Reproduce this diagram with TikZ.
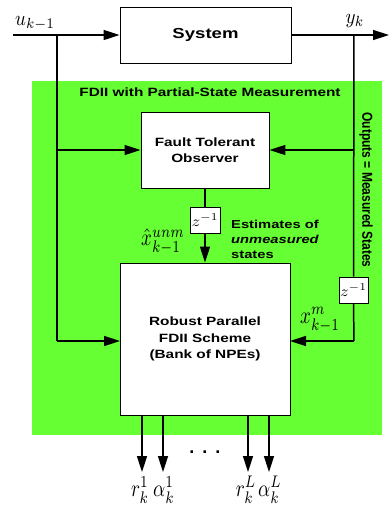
\documentclass[tikz,border=0pt]{standalone}
\usepackage{fontspec}
\usepackage{graphicx}
\setsansfont{Liberation Sans}
\newfontfamily\wsans{Liberation Sans}[FakeStretch=1.28]
\usetikzlibrary{arrows.meta}
\definecolor{fdgreen}{RGB}{102,255,51}
% stretched math label: #1 = horizontal scale, #2 = vertical scale (relative to 10pt)
\newcommand{\wm}[3]{\scalebox{#1}[#2]{$#3$}}
\tikzset{
  blk/.style={draw=black, fill=white, line width=0.9pt, inner sep=0pt},
  wire/.style={line width=1.5pt},
  arr/.style={wire, -{Triangle[length=16pt,width=10pt]}},
  btxt/.style={font=\wsans\bfseries\fontsize{12}{16.5}\selectfont, align=center},
  mlab/.style={inner sep=0pt}
}
\begin{document}
\begin{tikzpicture}[x=1pt,y=-1pt]
\useasboundingbox (0,0) rectangle (389,507);
\fill[fdgreen] (32,81) rectangle (382,435);
% boxes
\node[blk, btxt, font=\wsans\bfseries\fontsize{14.5}{16}\selectfont, minimum width=171pt, minimum height=56pt] (sys) at (205.5,35) {System};
\node[blk, btxt, font=\wsans\bfseries\fontsize{12}{16}\selectfont, minimum width=128pt, minimum height=76pt] (obs) at (205,150) {Fault Tolerant\\Observer};
\node[blk, btxt, minimum width=170pt, minimum height=152pt] (fdii) at (205,339) {Robust Parallel\\FDII Scheme\\(Bank of NPEs)};
\node[blk, minimum width=30pt, minimum height=26pt] (z1) at (205,220) {\wm{1.7}{1.5}{z^{-1}}};
\node[blk, minimum width=29pt, minimum height=26pt] (z2) at (353.5,290) {\wm{1.7}{1.5}{z^{-1}}};
% coordinates
\coordinate (in) at (13,35);
\coordinate (out) at (389,35);
\coordinate (jl) at (57,35);
\coordinate (jr) at (354,35);
\coordinate (jlo) at (57,150);
\coordinate (jro) at (354,150);
\coordinate (jlf) at (57,341);
\coordinate (jrf) at (354,341);
\coordinate (fl) at (120,341);
\coordinate (fr) at (290,341);
\coordinate (b1) at (142,415);
\coordinate (b2) at (163,415);
\coordinate (b3) at (248,415);
\coordinate (b4) at (269,415);
\coordinate (e1) at (142,472);
\coordinate (e2) at (163,472);
\coordinate (e3) at (248,472);
\coordinate (e4) at (269,472);
% wires
\draw[arr] (in) -- (sys.west);
\draw[arr] (sys.east) -- (out);
\draw[wire] (jl) -- (jlf);
\draw[arr] (jlf) -- (fl);
\draw[arr] (jlo) -- (obs.west);
\draw[wire] (jr) -- (z2.north);
\draw[arr] (jro) -- (obs.east);
\draw[wire] (z2.south) -- (jrf);
\draw[arr] (jrf) -- (fr);
\draw[wire] (obs.south) -- (z1.north);
\draw[arr] (z1.south) -- (fdii.north);
\draw[arr] (b1) -- (e1);
\draw[arr] (b2) -- (e2);
\draw[arr] (b3) -- (e3);
\draw[arr] (b4) -- (e4);
% labels
\node[btxt] (hdr) at (210,92) {FDII with Partial-State Measurement};
\node[font=\sffamily\bfseries\fontsize{12}{14}\selectfont, rotate=-90] (outl) at (366,190) {\scalebox{1}[1.2]{Outputs = Measured States}};
\node[btxt, font=\wsans\bfseries\fontsize{11.5}{15}\selectfont, align=left, anchor=north west, inner sep=0pt] (est) at (231,220) {Estimates of\\\textit{unmeasured}\\states};
\node[mlab] (ul) at (35,23) {\wm{1.9}{2.1}{u_{k-1}}};
\node[mlab] (yl) at (355,21) {\wm{1.9}{2.1}{y_k}};
\node[mlab] (xh) at (163,242) {\wm{1.9}{2.4}{\hat{x}^{unm}_{k-1}}};
\node[mlab] (xm) at (320,320) {\wm{1.9}{2.4}{x^{m}_{k-1}}};
\node[mlab] (r1) at (140,490) {\wm{1.9}{2.4}{r^1_k}};
\node[mlab] (a1) at (164,490) {\wm{1.9}{2.4}{\alpha^1_k}};
\node[mlab] (rL) at (246,490) {\wm{1.9}{2.4}{r^L_k}};
\node[mlab] (aL) at (270,490) {\wm{1.9}{2.4}{\alpha^L_k}};
\node[font=\sffamily\bfseries\fontsize{18}{20}\selectfont] (dots) at (205,452) {.\hspace{8pt}.\hspace{8pt}.};
\end{tikzpicture}
\end{document}
